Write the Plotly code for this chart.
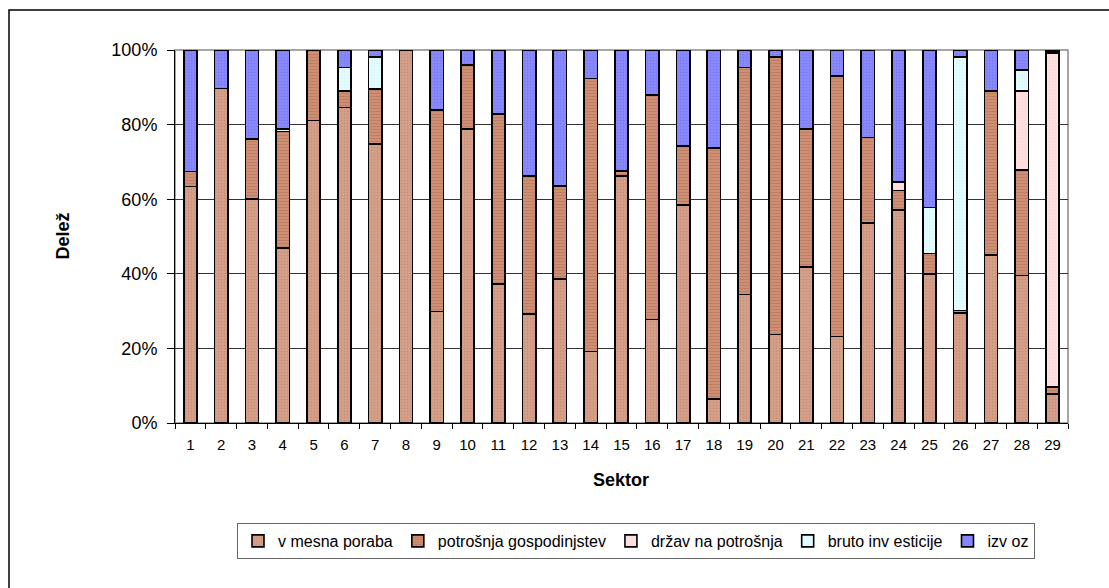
import plotly.graph_objects as go

sektorji = [str(i) for i in range(1, 30)]

vmesna_poraba = [63.4, 89.7, 60.0, 46.9, 81.1, 84.6, 74.8, 100.0, 29.9, 78.8,
                 37.3, 29.3, 38.6, 19.2, 66.2, 27.7, 58.5, 6.5, 34.4, 23.7,
                 41.8, 23.2, 53.7, 57.1, 40.0, 29.5, 45.1, 39.5, 7.8]
potrosnja_gospodinjstev = [4.0, 0.0, 16.1, 31.2, 18.9, 4.4, 14.8, 0.0, 54.0, 17.2,
                           45.6, 37.0, 25.0, 73.2, 1.4, 60.2, 15.8, 67.3, 60.9, 74.5,
                           37.0, 69.9, 22.8, 5.2, 5.4, 0.7, 43.9, 28.4, 1.8]
drzavna_potrosnja = [0, 0, 0, 0, 0, 0, 0, 0, 0, 0,
                     0, 0, 0, 0, 0, 0, 0, 0, 0, 0,
                     0, 0, 0, 2.3, 0, 0, 0, 21.1, 89.5]
bruto_investicije = [0, 0, 0, 0.7, 0, 6.3, 8.6, 0, 0, 0,
                     0, 0, 0, 0, 0, 0, 0, 0, 0, 0,
                     0, 0, 0, 0, 12.4, 68.0, 0, 5.6, 0.3]
izvoz = [32.6, 10.3, 23.9, 21.2, 0.0, 4.7, 1.8, 0.0, 16.1, 4.0,
         17.1, 33.7, 36.4, 7.6, 32.4, 12.1, 25.7, 26.2, 4.7, 1.8,
         21.2, 6.9, 23.5, 35.4, 42.2, 1.8, 11.0, 5.4, 0.6]

serije = [
    ("v mesna poraba", vmesna_poraba, "#D6A18A", dict(shape=".", fgcolor="#B97E66", size=3, solidity=0.3)),
    ("potrošnja gospodinjstev", potrosnja_gospodinjstev, "#CF8F73", dict(shape="-", fgcolor="#AE6E57", size=3, solidity=0.35)),
    ("držav na potrošnja", drzavna_potrosnja, "#FFE0E0", dict(shape=".", fgcolor="#F8CACA", size=3, solidity=0.2)),
    ("bruto inv esticije", bruto_investicije, "#E2FCFF", dict(shape=".", fgcolor="#C8EEF4", size=3, solidity=0.2)),
    ("izv oz", izvoz, "#8A8AFF", dict(shape=".", fgcolor="#6A6AE8", size=3, solidity=0.3)),
]

fig = go.Figure()
for ime, vrednosti, barva, vzorec in serije:
    fig.add_trace(go.Bar(
        x=sektorji, y=vrednosti, name=ime,
        marker=dict(color=barva, line=dict(color="black", width=1.6), pattern=vzorec),
    ))

font = "Liberation Sans, Arial, sans-serif"
L, R, T, B = 175, 41, 50, 165
W, H = 1109, 588
pw, ph = W - L - R, H - T - B

def px_x(p):
    return (p - L) / pw

def px_y(p):
    return (H - B - p) / ph

fig.update_layout(
    width=W, height=H,
    margin=dict(l=L, r=R, t=T, b=B),
    barmode="stack", bargap=0.57,
    paper_bgcolor="white", plot_bgcolor="white",
    font=dict(family=font, size=16, color="black"),
    showlegend=True,
    legend=dict(orientation="h", x=px_x(636), xanchor="center", y=px_y(523), yanchor="top",
                bordercolor="#666666", borderwidth=1, font=dict(size=16),
                itemwidth=30, traceorder="normal",
                ),
    xaxis=dict(type="category", showgrid=False, showline=True, linecolor="black", linewidth=1,
               ticks="outside", tickson="boundaries", ticklen=5, tickcolor="black",
               tickfont=dict(size=15), ticklabelstandoff=8),
    yaxis=dict(range=[0, 100], dtick=20, ticksuffix="%", showgrid=True, gridcolor="#333333",
               gridwidth=1, showline=True, linecolor="black", linewidth=1,
               ticks="outside", ticklen=7, tickcolor="black", tickfont=dict(size=18),
               ticklabelstandoff=6, zeroline=False),
    shapes=[
        dict(type="rect", xref="paper", yref="paper", x0=0, x1=1, y0=0, y1=1,
             line=dict(color="#888888", width=1.5), layer="below"),
        dict(type="rect", xref="paper", yref="paper", x0=px_x(9), x1=px_x(1120),
             y0=px_y(600), y1=px_y(10), line=dict(color="black", width=1.5)),
    ],
    annotations=[
        dict(text="<b>Delež</b>", xref="paper", yref="paper", x=px_x(62), y=0.5,
             textangle=-90, showarrow=False, font=dict(size=18), xanchor="center", yanchor="middle"),
        dict(text="<b>Sektor</b>", xref="paper", yref="paper", x=px_x(621), y=px_y(480),
             showarrow=False, font=dict(size=18), xanchor="center", yanchor="middle"),
    ],
)

fig.write_html("out.html")
